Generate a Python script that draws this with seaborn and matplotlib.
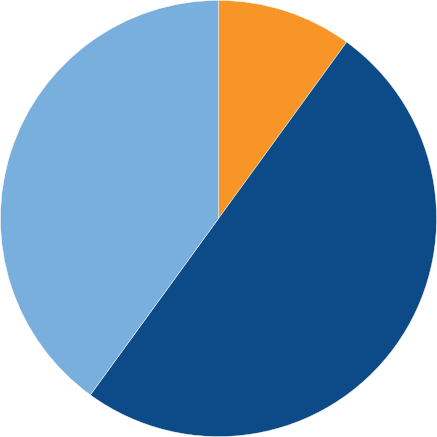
import matplotlib
matplotlib.use("Agg")
import matplotlib.pyplot as plt
import seaborn as sns

sns.set_theme(style="white")

labels = ["Orange", "Dark blue", "Light blue"]
values = [10, 50, 40]
colors = ["#F79626", "#0C4B88", "#78AFDD"]

fig = plt.figure(figsize=(4.37, 4.37), dpi=100)
ax = fig.add_axes([0, 0, 1, 1])
ax.pie(values, colors=colors, startangle=90, counterclock=False,
       radius=1.0, wedgeprops=dict(linewidth=0.3, edgecolor="white"))
ax.set_xlim(-1.002, 1.002)
ax.set_ylim(-1.002, 1.002)
ax.set_aspect("equal")
ax.axis("off")
fig.savefig("out.png", dpi=100, facecolor="white")
